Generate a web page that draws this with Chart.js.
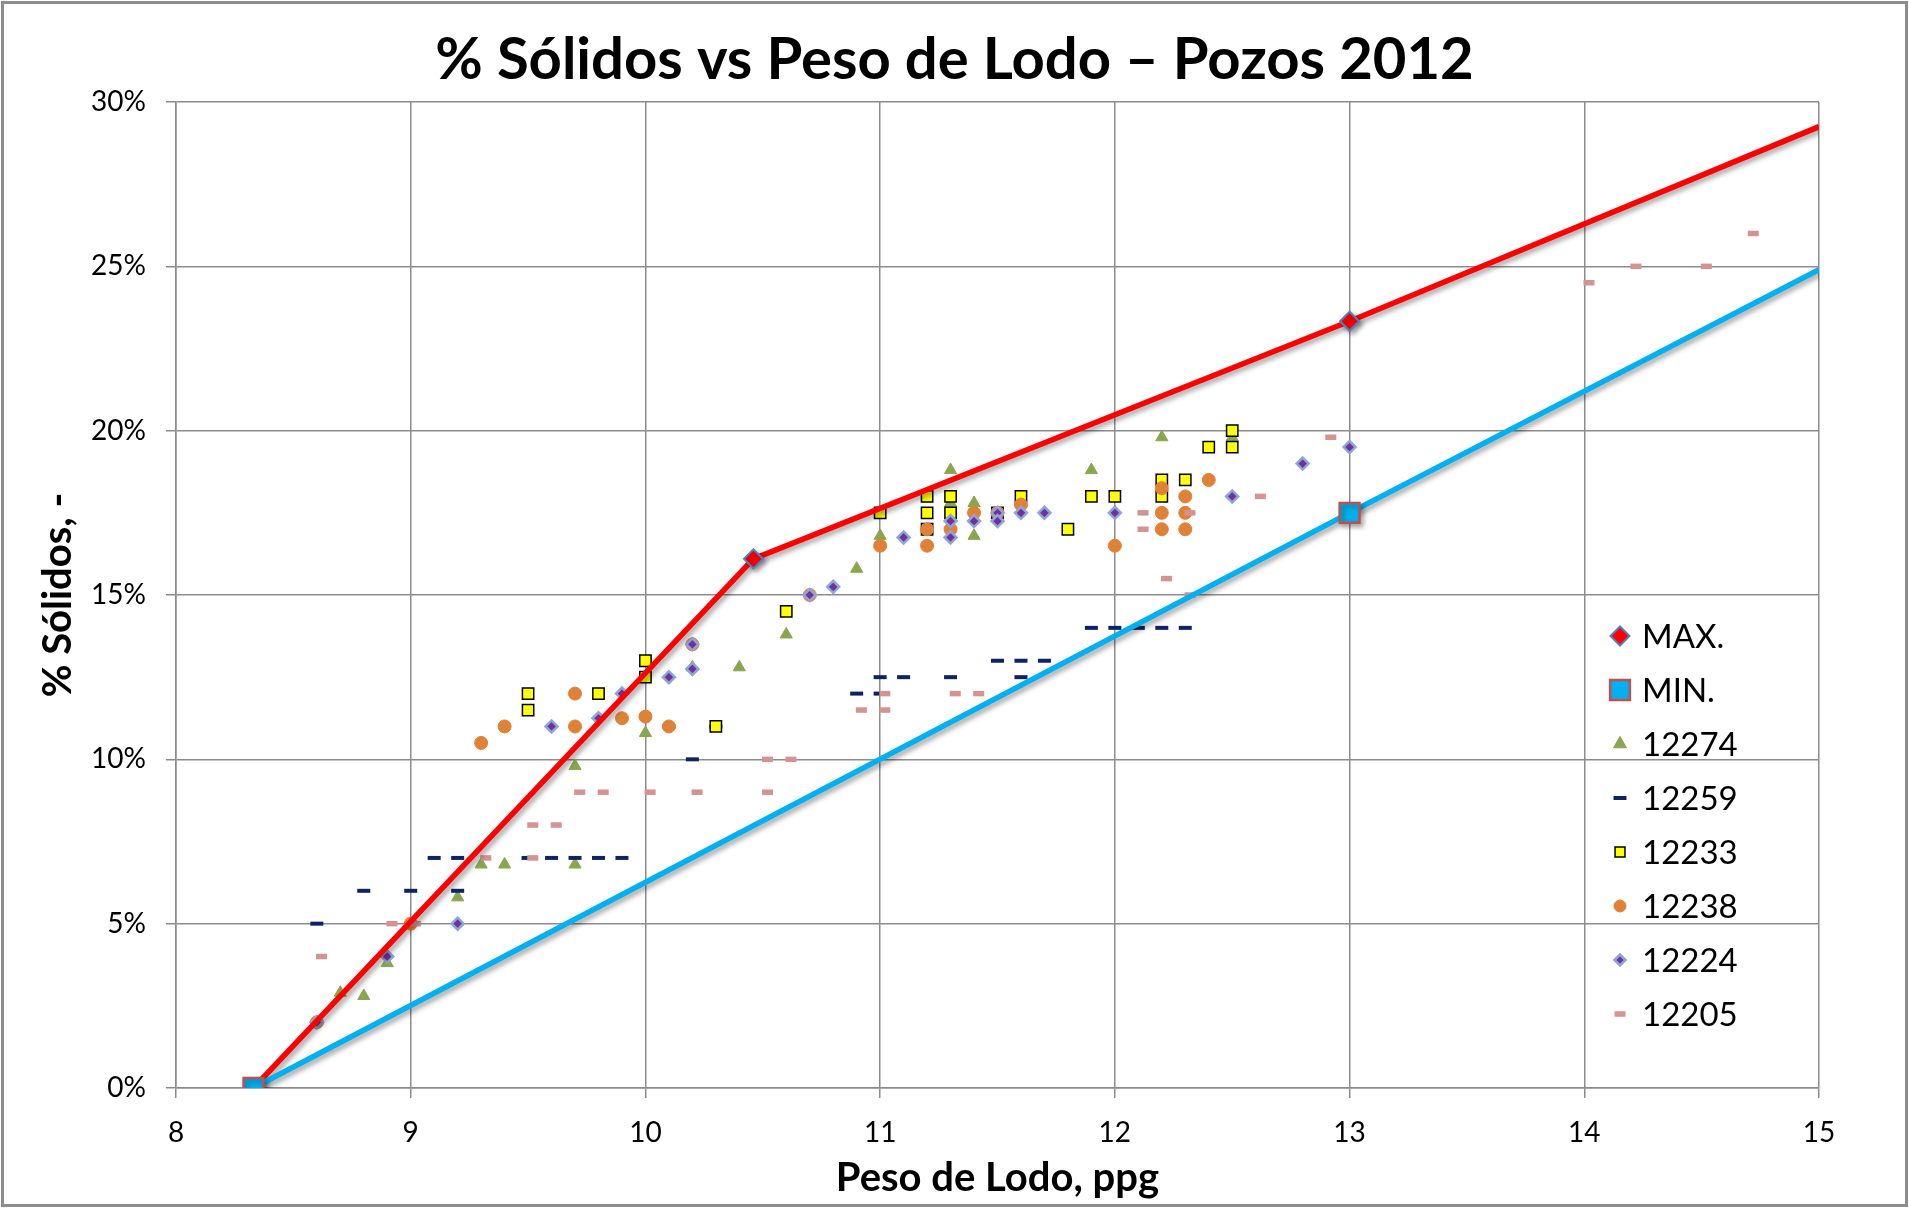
<!DOCTYPE html>
<html>
<head>
<meta charset="utf-8">
<script src="https://cdn.jsdelivr.net/npm/chart.js@4.4.0/dist/chart.umd.min.js"></script>
<style>
  html, body { margin: 0; padding: 0; background: #fff; }
  #wrap { width: 1909px; height: 1208px; }
</style>
</head>
<body>
<div id="wrap"><canvas id="chart" width="1909" height="1208"></canvas></div>
<script>
// Peso de lodo (ppg) -> % sólidos
const maxX = [8.33, 10.46, 13, 15];
const maxY = [0, 16.1, 23.33, 29.25];

const minX = [8.33, 13, 15];
const minY = [0, 17.5, 24.9];

const w12274X = [8.7, 8.8, 8.9, 9.2, 9.3, 9.4, 9.7, 9.7, 10.0, 10.2, 10.4, 10.6, 10.9, 11.0, 11.3, 11.3, 11.4, 11.4, 11.6, 11.9, 12.2, 12.5];
const w12274Y = [2.9, 2.8, 3.8, 5.8, 6.8, 6.8, 6.8, 9.8, 10.8, 12.8, 12.8, 13.8, 15.8, 16.8, 18.8, 17.8, 17.8, 16.8, 17.8, 18.8, 19.8, 19.8];

const w12259X = [8.6, 8.8, 9.0, 9.2, 9.1, 9.2, 9.5, 9.6, 9.7, 9.8, 9.9, 10.1, 10.2, 10.3, 10.9, 11.0, 11.0, 11.1, 11.3, 11.5, 11.6, 11.7, 11.6, 11.9, 12.0, 12.1, 12.2, 12.3];
const w12259Y = [5, 6, 6, 6, 7, 7, 7, 7, 7, 7, 7, 11, 10, 11, 12, 12, 12.5, 12.5, 12.5, 13, 13, 13, 12.5, 14, 14, 14, 14, 14];

const w12233X = [9.5, 9.5, 9.8, 10.0, 10.0, 10.3, 10.6, 11.0, 11.2, 11.2, 11.2, 11.3, 11.3, 11.5, 11.6, 11.8, 11.9, 12.0, 12.2, 12.2, 12.3, 12.4, 12.5, 12.5];
const w12233Y = [12, 11.5, 12, 13, 12.5, 11, 14.5, 17.5, 18, 17.5, 17, 18, 17.5, 17.5, 18, 17, 18, 18, 18.5, 18, 18.5, 19.5, 20, 19.5];

const w12238X = [8.6, 9.0, 9.3, 9.4, 9.7, 9.7, 9.9, 10.0, 10.1, 10.2, 10.7, 11.0, 11.2, 11.2, 11.3, 11.4, 11.5, 11.6, 12.0, 12.2, 12.2, 12.2, 12.3, 12.3, 12.3, 12.4];
const w12238Y = [2, 5, 10.5, 11, 12, 11, 11.25, 11.3, 11, 13.5, 15, 16.5, 17, 16.5, 17, 17.5, 17.5, 17.75, 16.5, 18.25, 17.5, 17, 18, 17.5, 17, 18.5];

const w12224X = [8.6, 8.9, 9.2, 9.6, 9.8, 9.9, 10.1, 10.2, 10.2, 10.7, 10.8, 11.1, 11.3, 11.3, 11.4, 11.5, 11.5, 11.6, 11.7, 12.0, 12.5, 12.8, 13.0];
const w12224Y = [2, 4, 5, 11, 11.25, 12, 12.5, 13.5, 12.75, 15, 15.25, 16.75, 17.25, 16.75, 17.25, 17.5, 17.25, 17.5, 17.5, 17.5, 18, 19, 19.5];

const w12205X = [8.62, 8.92, 9.02, 9.32, 9.52, 9.52, 9.62, 9.72, 9.82, 10.02, 10.22, 10.52, 10.52, 10.62, 10.92, 11.02, 11.02, 11.32, 11.42, 12.12, 12.12, 12.22, 12.32, 12.32, 12.62, 12.92, 14.02, 14.22, 14.52, 14.72];
const w12205Y = [4, 5, 5, 7, 7, 8, 8, 9, 9, 9, 9, 9, 10, 10, 11.5, 11.5, 12, 12, 12, 17.5, 17, 15.5, 17.5, 15, 18, 19.8, 24.5, 25, 25, 26];

const yTicks = [0, 5, 10, 15, 20, 25, 30];
const chartTitle = '% Sólidos vs Peso de Lodo – Pozos 2012';

function pts(xs, ys) {
  return xs.map((x, i) => ({ x: x, y: ys[i] }));
}

const FONT = 'Lato, "Open Sans", sans-serif';
Chart.defaults.font.family = FONT;
Chart.defaults.color = '#000';

// white background, title centred on the whole picture, outer border
const frame = {
  id: 'frame',
  beforeDraw(chart) {
    const ctx = chart.ctx;
    ctx.save();
    ctx.fillStyle = '#fff';
    ctx.fillRect(0, 0, chart.width, chart.height);
    ctx.restore();
  },
  afterDraw(chart) {
    const ctx = chart.ctx;
    ctx.save();
    ctx.fillStyle = '#000';
    ctx.font = 'bold 58px ' + FONT;
    ctx.textAlign = 'center';
    ctx.textBaseline = 'middle';
    ctx.fillText(chartTitle, chart.width / 2, 60);
    ctx.strokeStyle = '#8c8c8c';
    ctx.lineWidth = 3;
    ctx.strokeRect(2.5, 2.5, chart.width - 5, chart.height - 5);
    ctx.restore();
  }
};

// soft drop shadow under the MAX / MIN lines
const lineShadow = {
  id: 'lineShadow',
  beforeDatasetDraw(chart, args) {
    if (!chart.data.datasets[args.index].showLine) return;
    const ctx = chart.ctx;
    ctx.save();
    ctx.shadowColor = 'rgba(0,0,0,0.35)';
    ctx.shadowBlur = 5;
    ctx.shadowOffsetX = 3;
    ctx.shadowOffsetY = 3;
  },
  afterDatasetDraw(chart, args) {
    if (!chart.data.datasets[args.index].showLine) return;
    chart.ctx.restore();
  }
};

// legend drawn inside the plot, lower right
const legendRadius = [9.5, 14, 7.5, 6.5, 7, 6, 5.5, 5.5];
const insideLegend = {
  id: 'insideLegend',
  afterDraw(chart) {
    const ctx = chart.ctx;
    const area = chart.chartArea;
    const mx = area.right - 199;
    const tx = area.right - 177;
    chart.data.datasets.forEach((ds, i) => {
      const y = 636 + i * 54;
      ctx.save();
      ctx.fillStyle = ds.pointBackgroundColor;
      ctx.strokeStyle = ds.pointBorderColor;
      ctx.lineWidth = ds.pointBorderWidth;
      Chart.helpers.drawPoint(ctx, {
        pointStyle: ds.pointStyle,
        radius: legendRadius[i],
        rotation: 0,
        borderWidth: ds.pointBorderWidth
      }, mx, y);
      ctx.fillStyle = '#000';
      ctx.font = '33px ' + FONT;
      ctx.textBaseline = 'middle';
      ctx.textAlign = 'left';
      ctx.fillText(ds.label, tx, y + 1);
      ctx.restore();
    });
  }
};

new Chart(document.getElementById('chart'), {
  type: 'scatter',
  data: {
    datasets: [
      {
        label: 'MAX.', data: pts(maxX, maxY), showLine: true,
        borderColor: '#FF0000', borderWidth: 5.5,
        pointStyle: 'rectRot', pointRadius: [0, 9.5, 9.5, 0],
        pointBackgroundColor: '#FF0000', pointBorderColor: '#4F81BD', pointBorderWidth: 2,
        order: 1
      },
      {
        label: 'MIN.', data: pts(minX, minY), showLine: true,
        borderColor: '#00B0F0', borderWidth: 5.5,
        pointStyle: 'rect', pointRadius: [14, 14, 0],
        pointBackgroundColor: '#00B0F0', pointBorderColor: '#C0504D', pointBorderWidth: 2.5,
        order: 0
      },
      {
        label: '12274', data: pts(w12274X, w12274Y),
        pointStyle: 'triangle', pointRadius: 7,
        pointBackgroundColor: '#89A54E', pointBorderColor: '#89A54E', pointBorderWidth: 1,
        order: 8
      },
      {
        label: '12259', data: pts(w12259X, w12259Y),
        pointStyle: 'line', pointRadius: 6.5,
        pointBackgroundColor: '#0E2462', pointBorderColor: '#0E2462', pointBorderWidth: 4,
        order: 7
      },
      {
        label: '12233', data: pts(w12233X, w12233Y),
        pointStyle: 'rect', pointRadius: 8,
        pointBackgroundColor: '#FFFF00', pointBorderColor: '#000000', pointBorderWidth: 1.5,
        order: 6
      },
      {
        label: '12238', data: pts(w12238X, w12238Y),
        pointStyle: 'circle', pointRadius: 6.5,
        pointBackgroundColor: '#DF8238', pointBorderColor: '#DF8238', pointBorderWidth: 1,
        order: 5
      },
      {
        label: '12224', data: pts(w12224X, w12224Y),
        pointStyle: 'rectRot', pointRadius: 6,
        pointBackgroundColor: '#7030A0', pointBorderColor: '#8EA5D6', pointBorderWidth: 2.5,
        order: 4
      },
      {
        label: '12205', data: pts(w12205X, w12205Y),
        pointStyle: 'line', pointRadius: 5.5,
        pointBackgroundColor: '#D49391', pointBorderColor: '#D49391', pointBorderWidth: 5.5,
        order: 3
      }
    ]
  },
  options: {
    responsive: false,
    animation: false,
    events: [],
    layout: { padding: { left: 0, right: 90, top: 102, bottom: 0 } },
    plugins: {
      legend: { display: false },
      tooltip: { enabled: false },
      title: { display: false }
    },
    scales: {
      x: {
        type: 'linear', min: 8, max: 15,
        ticks: { stepSize: 1, color: '#000', font: { size: 28 }, padding: 18 },
        grid: { color: '#8c8c8c', lineWidth: 1.5, tickLength: 10 },
        border: { color: '#8c8c8c', width: 1.5 },
        title: {
          display: true, text: 'Peso de Lodo, ppg', color: '#000',
          font: { size: 40, weight: 'bold' }, padding: { top: 0, bottom: 6 }
        },
        afterFit: (scale) => { scale.height = 120; }
      },
      y: {
        type: 'linear', min: 0, max: 30,
        afterBuildTicks: (scale) => { scale.ticks = yTicks.map(v => ({ value: v })); },
        ticks: { color: '#000', font: { size: 28 }, padding: 20, callback: (v) => v + '%' },
        grid: { color: '#8c8c8c', lineWidth: 1.5, tickLength: 10 },
        border: { color: '#8c8c8c', width: 1.5 },
        title: {
          display: true, text: '% Sólidos, -', color: '#000',
          font: { size: 40, weight: 'bold' }, padding: 34
        },
        afterFit: (scale) => { scale.width = 176; }
      }
    }
  },
  plugins: [frame, lineShadow, insideLegend]
});
</script>
</body>
</html>
